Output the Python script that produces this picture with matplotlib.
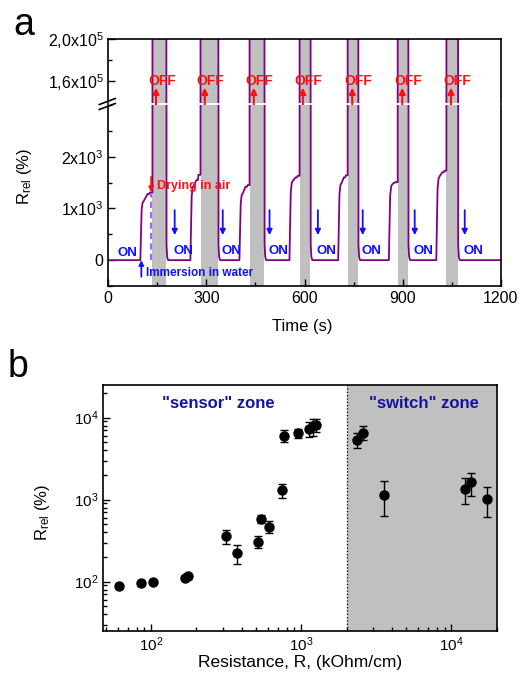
import matplotlib
matplotlib.use("Agg")
import matplotlib.pyplot as plt
import matplotlib.ticker as mticker
from matplotlib.lines import Line2D
import numpy as np

plt.rcParams['font.family'] = ['Liberation Sans', 'DejaVu Sans']
plt.rcParams['mathtext.fontset'] = 'custom'
plt.rcParams['mathtext.rm'] = 'Liberation Sans'
plt.rcParams['mathtext.it'] = 'Liberation Sans:italic'
plt.rcParams['mathtext.default'] = 'regular'

# ---------------- Panel a data (time in s, R_rel in %) ----------------
rise_start = [98, 251, 401, 554, 703, 858, 1003]
band_start = [135, 282, 432, 585, 732, 885, 1034]
band_end = [177, 336, 477, 618, 764, 917, 1069]
level_fast = [1150, 1450, 1300, 1540, 1500, 1470, 1630]
level_slow = [1280, 1550, 1420, 1600, 1600, 1500, 1700]
level_step = [1310, 1650, 1450, 1630, 1640, 1510, 1730]
off_level = 5.0e5
on_arrow_t = [203, 350, 493, 641, 778, 937, 1090]
off_arrow_t = [146, 295, 445, 595, 746, 899, 1048]
first_on_t = 60
upper_ticks = [1.6e5, 2.0e5]
upper_ticklabels = [r'1,6x10$^5$', r'2,0x10$^5$']
lower_ticks = [0, 1000, 2000]
lower_ticklabels = ['0', r'1x10$^3$', r'2x10$^3$']
time_ticks = [0, 300, 600, 900, 1200]

# ---------------- Panel b data ----------------
resistance = [61, 86, 103, 167, 176, 315, 375, 515, 536, 610, 747, 771, 944,
              1130, 1200, 1250, 2350, 2570, 3565, 12280, 13520, 17280]
r_rel = [88, 95, 99, 111, 116, 358, 221, 306, 588, 470, 1297, 6040, 6520,
         7300, 7800, 8100, 5310, 6580, 1150, 1349, 1622, 1020]
r_err = [3, 3, 3, 3, 3, 70, 58, 50, 70, 80, 250, 930, 800,
         1500, 1800, 1500, 1100, 1300, 520, 470, 520, 410]
switch_threshold = 2000

# ---------------- build the signal polyline ----------------
t_sig = [0]
v_sig = [0]
for rs, bs, be, lf, ls_, lst in zip(rise_start, band_start, band_end,
                                     level_fast, level_slow, level_step):
    mid = rs + 0.6 * (bs - rs)
    stp = bs - 0.25 * (bs - rs)
    t_sig += [rs, rs + 2, rs + 4, rs + 7, rs + 11, mid, stp, stp + 1.5, bs,
              bs, be, be + 1, be + 3, be + 6]
    v_sig += [0, 0.45 * lf, 0.85 * lf, 0.97 * lf, lf, ls_, ls_, lst, lst,
              off_level, off_level, 300, 60, 0]
t_sig.append(1200)
v_sig.append(0)

purple = '#800080'
gray = '#c0c0c0'
red = '#ff1010'
blue = '#1010ff'
navy = '#1414a0'

fig = plt.figure(figsize=(5.2, 6.77), dpi=100)

L, R = 108.3 / 520, 500.7 / 520
ax_up = fig.add_axes([L, 1 - 103 / 677, R - L, (103 - 39) / 677])
ax_lo = fig.add_axes([L, 1 - 286 / 677, R - L, (286 - 105) / 677])

for ax in (ax_up, ax_lo):
    for bs, be in zip(band_start, band_end):
        ax.axvspan(bs, be, color=gray, lw=0, zorder=0)
    ax.plot(t_sig, v_sig, color=purple, lw=1.3, zorder=2)
    ax.set_xlim(0, 1200)
    for s in ax.spines.values():
        s.set_linewidth(1.2)
    ax.tick_params(direction='in', which='both', labelsize=11.5, width=1)
    ax.tick_params(which='major', length=5)
    ax.tick_params(which='minor', length=3)
    ax.tick_params(top=False, right=False)

ax_up.set_ylim(1.386e5, 2.0e5)
ax_up.spines['bottom'].set_visible(False)
ax_up.tick_params(bottom=False, labelbottom=False, which='both')
ax_up.set_yticks(upper_ticks)
ax_up.set_yticklabels(upper_ticklabels)
ax_up.yaxis.set_minor_locator(mticker.FixedLocator([1.8e5]))

ax_lo.set_ylim(-500, 3000)
ax_lo.spines['top'].set_visible(False)
ax_lo.set_yticks(lower_ticks)
ax_lo.set_yticklabels(lower_ticklabels)
ax_lo.yaxis.set_minor_locator(mticker.MultipleLocator(500))
ax_lo.set_xticks(time_ticks)
ax_lo.xaxis.set_minor_locator(mticker.MultipleLocator(150))

# break marks on the left spine
for yy in (101.5, 106.5):
    fig.add_artist(Line2D([L - 9 / 520, L + 7 / 520],
                          [1 - (yy + 3) / 677, 1 - (yy - 3) / 677],
                          color='k', lw=1.2, transform=fig.transFigure))

# OFF arrows and labels
for t in off_arrow_t:
    ax_up.annotate('', xy=(t, 1.533e5), xytext=(t, 2840),
                   textcoords=ax_lo.transData, annotation_clip=False,
                   arrowprops=dict(arrowstyle='-|>', color=red, lw=1.5,
                                   mutation_scale=9, shrinkA=0, shrinkB=0))
    ax_up.text(t + 18, 1.6e5, 'OFF', color=red, fontsize=10, fontweight='bold',
               ha='center', va='center', zorder=5)

# ON arrows and labels
for t in on_arrow_t:
    ax_lo.annotate('', xy=(t, 484), xytext=(t, 967), annotation_clip=False,
                   arrowprops=dict(arrowstyle='-|>', color=blue, lw=1.3,
                                   mutation_scale=8, shrinkA=0, shrinkB=0))
    ax_lo.text(t - 4, 170, 'ON', color=blue, fontsize=9.5, fontweight='bold',
               ha='left', va='center')
ax_lo.text(first_on_t, 130, 'ON', color=blue, fontsize=9.5, fontweight='bold',
           ha='center', va='center')

# drying / immersion annotations
ax_lo.plot([131, 131], [0, 1300], color='#a066ff', lw=1.5, ls=(0, (3, 2)), zorder=3)
ax_lo.annotate('', xy=(131, 1315), xytext=(131, 1611),
               arrowprops=dict(arrowstyle='-|>', color=red, lw=1.3,
                               mutation_scale=7, shrinkA=0, shrinkB=0))
ax_lo.text(149, 1440, 'Drying in air', color=red, fontsize=9, fontweight='bold',
           ha='left', va='center')
ax_lo.annotate('', xy=(101, 0), xytext=(101, -320),
               arrowprops=dict(arrowstyle='-|>', color=blue, lw=1.3,
                               mutation_scale=7, shrinkA=0, shrinkB=0))
ax_lo.text(114, -240, 'Immersion in water', color=blue, fontsize=8.5,
           fontweight='bold', ha='left', va='center')

fig.text(302 / 520, 1 - 327 / 677, 'Time (s)', fontsize=12, ha='center', va='center')
fig.text(25 / 520, 1 - 176 / 677, r'R$_{\mathregular{rel}}$ (%)', fontsize=12,
         rotation=90, ha='center', va='center')
fig.text(13 / 520, 1 - 35 / 677, 'a', fontsize=27, ha='left', va='baseline')

# ---------------- Panel b ----------------
Lb, Rb = 103.3 / 520, 496.7 / 520
axb = fig.add_axes([Lb, 1 - 631 / 677, Rb - Lb, (631 - 385) / 677])
axb.set_xscale('log')
axb.set_yscale('log')
axb.set_xlim(48, 2.0e4)
axb.set_ylim(25, 2.5e4)
axb.axvspan(switch_threshold, 2.0e4, color=gray, lw=0, zorder=0)
axb.axvline(switch_threshold, color='k', ls=':', lw=0.9, zorder=1)
axb.errorbar(resistance, r_rel, yerr=r_err, fmt='o', color='k', ms=6.5,
             capsize=3, elinewidth=1, capthick=1, zorder=3)
for s in axb.spines.values():
    s.set_linewidth(1.2)
axb.tick_params(direction='in', which='both', labelsize=11, width=1,
                top=False, right=False)
axb.tick_params(which='major', length=5)
axb.tick_params(which='minor', length=3)
axb.xaxis.set_major_locator(mticker.LogLocator(base=10, numticks=10))
axb.xaxis.set_minor_locator(mticker.LogLocator(base=10, subs=np.arange(2, 10), numticks=20))
axb.yaxis.set_minor_locator(mticker.LogLocator(base=10, subs=np.arange(2, 10), numticks=20))
axb.xaxis.set_minor_formatter(mticker.NullFormatter())
axb.yaxis.set_minor_formatter(mticker.NullFormatter())
axb.text(0.293, 0.923, '"sensor" zone', color=navy, fontsize=12, fontweight='bold',
         ha='center', va='center', transform=axb.transAxes)
axb.text(0.815, 0.923, '"switch" zone', color=navy, fontsize=12, fontweight='bold',
         ha='center', va='center', transform=axb.transAxes)
fig.text(300 / 520, 1 - 662 / 677, 'Resistance, R, (kOhm/cm)', fontsize=12.5,
         ha='center', va='center')
fig.text(42 / 520, 1 - 512 / 677, r'R$_{\mathregular{rel}}$ (%)', fontsize=12,
         rotation=90, ha='center', va='center')
fig.text(8 / 520, 1 - 377 / 677, 'b', fontsize=27, ha='left', va='baseline')

fig.savefig('out.png', dpi=100)
